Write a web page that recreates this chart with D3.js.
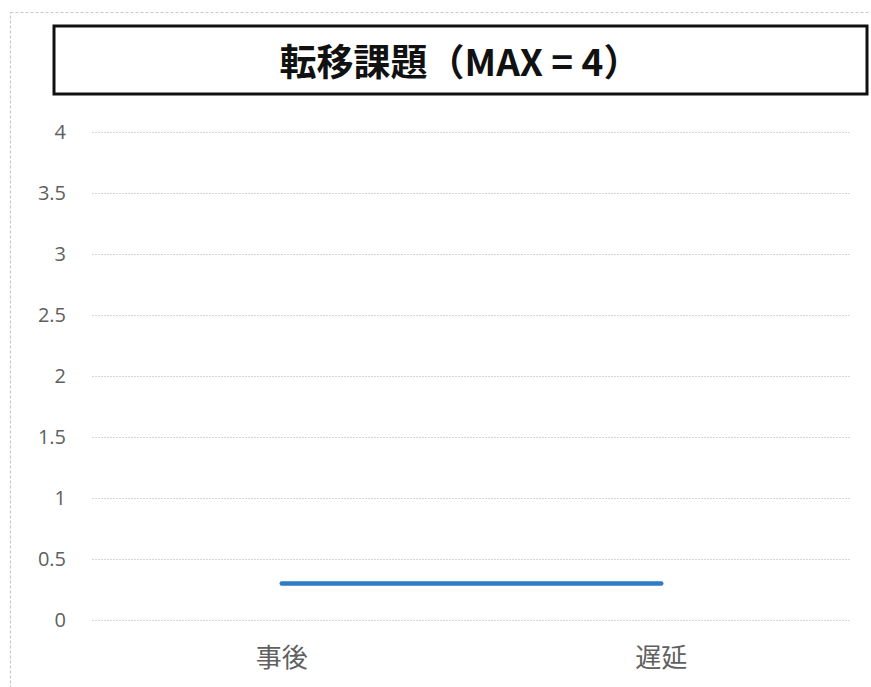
<!DOCTYPE html>
<html>
<head>
<meta charset="utf-8">
<script src="https://cdn.jsdelivr.net/npm/d3@7"></script>
<style>
  html, body { margin: 0; padding: 0; background: #fff; }
  svg { display: block; }
</style>
</head>
<body>
<svg id="chart" width="871" height="687"></svg>
<script>
// Chart data
const categories = ["事後", "遅延"];
const seriesValues = [0.3, 0.3];
const yTicks = [0, 0.5, 1, 1.5, 2, 2.5, 3, 3.5, 4];
const yTickLabels = ["0", "0.5", "1", "1.5", "2", "2.5", "3", "3.5", "4"];
const titleText = "転移課題（MAX = 4）";

const svg = d3.select("#chart");
const W = 871, H = 687;
const plotLeft = 92, plotRight = 851;

// Outer chart-area frame (dashed grey, runs off the right and bottom edges)
svg.append("rect")
  .attr("x", 10.5).attr("y", 12.5)
  .attr("width", W + 10).attr("height", H + 10)
  .attr("fill", "none")
  .attr("stroke", "#c8c8c8")
  .attr("stroke-width", 1.2)
  .attr("stroke-dasharray", "3,2");

// Title box
svg.append("rect")
  .attr("x", 54).attr("y", 26)
  .attr("width", 813).attr("height", 68)
  .attr("fill", "#fff")
  .attr("stroke", "#111")
  .attr("stroke-width", 3);
svg.append("text")
  .attr("x", 460).attr("y", 60)
  .attr("text-anchor", "middle")
  .attr("dominant-baseline", "central")
  .attr("font-family", "'Noto Sans CJK JP', 'Noto Sans', sans-serif")
  .attr("font-weight", "bold")
  .attr("font-size", 37)
  .attr("fill", "#111")
  .text(titleText);

const x = d3.scaleBand().domain(categories).range([plotLeft, plotRight]);
const y = d3.scaleLinear().domain([0, 4]).range([620, 132]);

// Horizontal gridlines with value labels
const yAxis = d3.axisLeft(y)
  .tickValues(yTicks)
  .tickFormat((d, i) => yTickLabels[i])
  .tickSize(-(plotRight - plotLeft))
  .tickPadding(26);
const gy = svg.append("g")
  .attr("transform", `translate(${plotLeft},0)`)
  .call(yAxis);
gy.select(".domain").remove();
gy.selectAll(".tick line")
  .attr("stroke", "#d6d6d6")
  .attr("stroke-width", 1.2)
  .attr("stroke-dasharray", "2,1");
gy.selectAll(".tick text")
  .attr("fill", "#606060")
  .attr("font-family", "'Open Sans', 'Liberation Sans', sans-serif")
  .attr("font-size", 20);

// Category axis labels
const xAxis = d3.axisBottom(x).tickSize(0).tickPadding(29);
const gx = svg.append("g")
  .attr("transform", `translate(0,620)`)
  .call(xAxis);
gx.select(".domain").remove();
gx.selectAll(".tick text")
  .attr("fill", "#606060")
  .attr("font-family", "'Noto Sans CJK JP', sans-serif")
  .attr("font-size", 26);

// Series line
const line = d3.line()
  .x((d, i) => x(categories[i]) + x.bandwidth() / 2)
  .y(d => y(d));
svg.append("path")
  .datum(seriesValues)
  .attr("d", line)
  .attr("fill", "none")
  .attr("stroke", "#2e7dc6")
  .attr("stroke-width", 4.5)
  .attr("stroke-linecap", "round");
</script>
</body>
</html>
